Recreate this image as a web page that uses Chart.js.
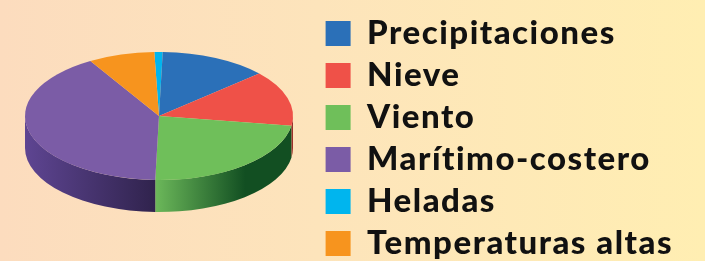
<!DOCTYPE html>
<html>
<head>
<meta charset="utf-8">
<script src="https://cdn.jsdelivr.net/npm/chart.js@4"></script>
<style>
  html, body { margin: 0; padding: 0; }
  body {
    width: 705px; height: 261px; overflow: hidden;
    background: linear-gradient(to right, #fcdcbe 0%, #fde4bb 45%, #ffeeb2 100%);
  }
  #wrap { position: relative; width: 705px; height: 261px; overflow: hidden; }
  /* shifted down a little so the legend sits like in the original */
  #myChart { position: absolute; left: 0; top: 8px; }
</style>
</head>
<body>
<div id="wrap"><canvas id="myChart" width="705" height="261"></canvas></div>
<script>
// categories as listed in the legend
var categories = ["Precipitaciones", "Nieve", "Viento", "Marítimo-costero", "Heladas", "Temperaturas altas"];
// share of each type (%)
var values = [13, 14, 23, 41, 1, 8];
var colors = ["#2b70b8", "#ef5148", "#6fbf5a", "#7b5ca6", "#00b5ee", "#f7941e"];
// darker tones for the side of the pie (light end, dark end)
var sideColors = [
    ["#1f548c", "#153a63"],
    ["#c23c35", "#8c2a25"],
    ["#6cb85a", "#124f22"],
    ["#5e4592", "#30234d"],
    ["#0090c0", "#006488"],
    ["#c9761a", "#8f5212"]
];
// order the slices go round clockwise from 12 o'clock
var drawOrder = [4, 0, 1, 2, 3, 5];

// where the flattened pie sits on the canvas
var pie3d = { cx: 159, cy: 108, rx: 134, ry: 64, depth: 32 };

var pieLabels = drawOrder.map(function (i) { return categories[i]; });
var pieValues = drawOrder.map(function (i) { return values[i]; });
var pieColors = drawOrder.map(function (i) { return colors[i]; });
var pieSides = drawOrder.map(function (i) { return sideColors[i]; });

function norm(a) {
    var t = Math.PI * 2;
    a = a % t;
    if (a < 0) a += t;
    return a;
}

var threeD = {
    id: 'threeD',
    beforeUpdate: function (chart) {
        // wider lettering, closer to the original typeface
        chart.ctx.letterSpacing = '1.5px';
    },
    beforeDatasetsDraw: function (chart) {
        var ctx = chart.ctx;
        var arcs = chart.getDatasetMeta(0).data;
        if (!arcs.length) return;
        var p = pie3d;

        // side walls, only the front half (0..PI in canvas angles)
        arcs.forEach(function (arc, i) {
            var s = norm(arc.startAngle);
            var e = s + (arc.endAngle - arc.startAngle);
            [0, Math.PI * 2, -Math.PI * 2].forEach(function (off) {
                var a1 = Math.max(s + off, 0);
                var a2 = Math.min(e + off, Math.PI);
                if (a2 <= a1) return;
                var xr = p.cx + p.rx * Math.cos(a1);
                var xl = p.cx + p.rx * Math.cos(a2);
                var c = pieSides[i];
                var g;
                if (drawOrder[i] === 2) {
                    // the green one darkens fast and stays dark
                    g = ctx.createLinearGradient(xl, 0, xl + 90, 0);
                } else {
                    g = ctx.createLinearGradient(xl, 0, xr, 0);
                }
                g.addColorStop(0, c[0]);
                g.addColorStop(1, c[1]);
                ctx.save();
                ctx.beginPath();
                ctx.ellipse(p.cx, p.cy, p.rx, p.ry, 0, a1, a2, false);
                ctx.ellipse(p.cx, p.cy + p.depth, p.rx, p.ry, 0, a2, a1, true);
                ctx.closePath();
                ctx.fillStyle = g;
                ctx.fill();
                ctx.restore();
            });
        });

        // squash the round pie into the top ellipse
        var a0 = arcs[0];
        var R = a0.outerRadius;
        ctx.save();
        ctx.translate(p.cx, p.cy);
        ctx.scale(p.rx / R, p.ry / R);
        ctx.translate(-a0.x, -a0.y);
    },
    afterDatasetsDraw: function (chart) {
        if (chart.getDatasetMeta(0).data.length) chart.ctx.restore();
    }
};

var ctx = document.getElementById('myChart');
var chart = new Chart(ctx, {
    type: 'pie',
    data: {
        labels: pieLabels,
        datasets: [{
            data: pieValues,
            backgroundColor: pieColors,
            borderWidth: 0,
            clip: false
        }]
    },
    options: {
        responsive: false,
        animation: false,
        events: [],
        rotation: -2,
        // negative left padding only lifts the half-width cap on the legend
        layout: { padding: { left: -80, right: 22 } },
        plugins: {
            tooltip: { enabled: false },
            legend: {
                position: 'right',
                align: 'center',
                labels: {
                    boxWidth: 25,
                    boxHeight: 25,
                    padding: 9,
                    color: '#111',
                    font: { family: 'Lato', size: 33, weight: 900, lineHeight: 1.0 },
                    // keep the legend in the original list order
                    sort: function (a, b) {
                        return drawOrder[a.index] - drawOrder[b.index];
                    }
                }
            }
        }
    },
    plugins: [threeD]
});
</script>
</body>
</html>
